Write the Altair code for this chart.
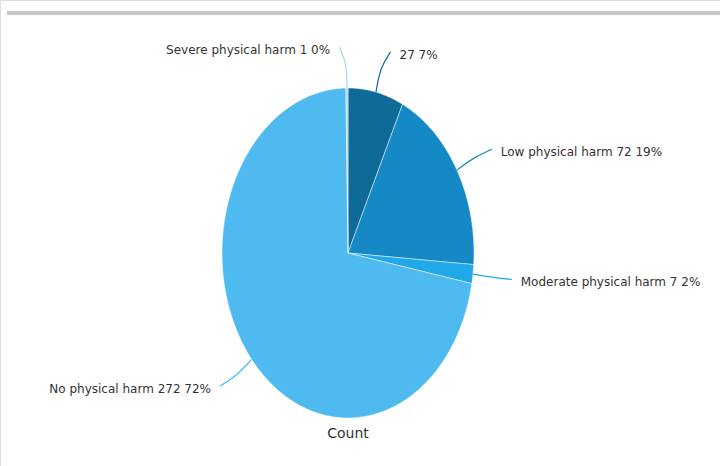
import numpy as np
import pandas as pd
import altair as alt

categories = ["", "Low physical harm", "Moderate physical harm", "No physical harm", "Severe physical harm"]
counts = [27, 72, 7, 272, 1]
colors = ["#106a98", "#1589c6", "#20a8e9", "#4fbaef", "#9bd8f3"]
axis_title = "Count"

total = sum(counts)
cum = np.cumsum([0] + counts)

# wedge outlines (unit ellipse, angles clockwise from top)
rows = []
for i, (c, n) in enumerate(zip(categories, counts)):
    a0 = cum[i] / total * 2 * np.pi
    a1 = cum[i + 1] / total * 2 * np.pi
    steps = max(3, int(np.degrees(a1 - a0)))
    k = 0
    rows.append(dict(cat=c, k=k, x=0.0, y=0.0)); k += 1
    for t in np.linspace(a0, a1, steps):
        rows.append(dict(cat=c, k=k, x=float(np.sin(t)), y=float(np.cos(t)))); k += 1
    rows.append(dict(cat=c, k=k, x=0.0, y=0.0))
wedges = pd.DataFrame(rows)

# leader lines and labels
lrows, labs = [], []
for i, (c, n) in enumerate(zip(categories, counts)):
    am = (cum[i] + cum[i + 1]) / 2 / total * 2 * np.pi
    s, co = float(np.sin(am)), float(np.cos(am))
    side = 1.0 if s > 0 else -1.0
    ex, ey = s * 1.25 + side * 0.06, co * 1.25
    lrows += [dict(cat=c, k=0, x=s, y=co),
              dict(cat=c, k=1, x=s * 1.15, y=co * 1.15),
              dict(cat=c, k=2, x=ex, y=ey)]
    pct = round(n / total * 100)
    labs.append(dict(cat=c, x=ex, y=ey, side="R" if side > 0 else "L",
                     label=f"{c} {n} {pct}%".strip()))
leaders = pd.DataFrame(lrows)
labels = pd.DataFrame(labs)

W, H = 720, 466
cx, cy, rx, ry = 348, 253, 126, 165
xs = alt.Scale(domain=[-cx / rx, (W - cx) / rx])
ys = alt.Scale(domain=[-(H - cy) / ry, cy / ry])
cscale = alt.Scale(domain=categories, range=colors)

X = alt.X("x:Q", scale=xs, axis=None)
Y = alt.Y("y:Q", scale=ys, axis=None)

pie = alt.Chart(wedges).mark_line(stroke="white", strokeWidth=0.6, strokeOpacity=0.8).encode(
    x=X, y=Y, order="k:Q", detail="cat:N",
    fill=alt.Fill("cat:N", scale=cscale, legend=None),
)

lead = alt.Chart(leaders).mark_line(strokeWidth=1.2, interpolate="basis").encode(
    x=X, y=Y, order="k:Q",
    color=alt.Color("cat:N", scale=cscale, legend=None),
)

font = "DejaVu Sans"
txtR = alt.Chart(labels).transform_filter(alt.datum.side == "R").mark_text(
    align="left", baseline="middle", dx=9, dy=3, font=font, fontSize=12, color="#333333"
).encode(x=X, y=Y, text="label:N")
txtL = alt.Chart(labels).transform_filter(alt.datum.side == "L").mark_text(
    align="right", baseline="middle", dx=-9, dy=3, font=font, fontSize=12, color="#333333"
).encode(x=X, y=Y, text="label:N")

title = alt.Chart(pd.DataFrame({"t": [axis_title]})).mark_text(
    align="center", baseline="middle", font=font, fontSize=14, color="#333333"
).encode(x=alt.value(cx), y=alt.value(434), text="t:N")

bar = alt.Chart(pd.DataFrame({"a": [0]})).mark_rule(color="#c8c8c8", strokeWidth=4).encode(
    x=alt.value(7), x2=alt.value(W), y=alt.value(13)
)

chart = alt.layer(bar, pie, lead, txtR, txtL, title).properties(
    width=W, height=H, autosize=alt.AutoSizeParams(type="none"), padding=0
).configure_view(stroke=None).configure(background="white")

chart.save("out.html", embed_options={"renderer": "svg", "actions": False})
